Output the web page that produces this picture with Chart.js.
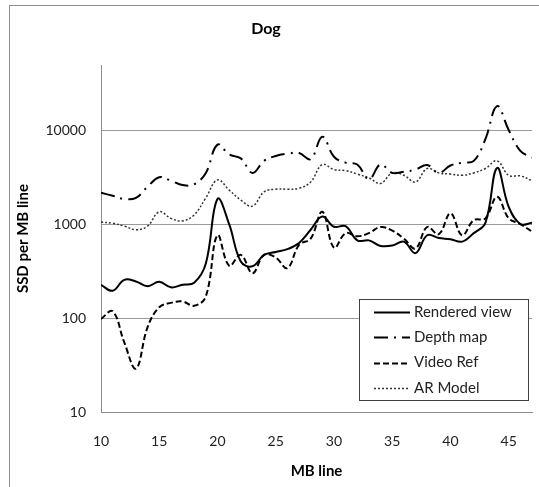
<!DOCTYPE html>
<html>
<head>
<meta charset="utf-8">
<script src="https://cdn.jsdelivr.net/npm/chart.js@4.4.1/dist/chart.umd.min.js"></script>
<style>
  html, body { margin: 0; padding: 0; background: #fff; }
  #wrap { width: 539px; height: 487px; }
</style>
</head>
<body>
<div id="wrap"><canvas id="graficoDog" width="539" height="487"></canvas></div>
<script>
const mbLinhas = [10, 11, 12, 13, 14, 15, 16, 17, 18, 19, 20, 21, 22, 23, 24, 25, 26, 27, 28,
  29, 30, 31, 32, 33, 34, 35, 36, 37, 38, 39, 40, 41, 42, 43, 44, 45, 46, 47];

const renderedView = [225, 195, 255, 245, 218, 243, 212, 226, 237, 380, 1850, 1000, 400, 355,
  470, 505, 540, 630, 870, 1200, 935, 950, 670, 670, 585, 590, 650, 490, 760, 710, 690, 650,
  800, 1030, 3950, 1520, 1000, 1030];

const depthMap = [2150, 2000, 1850, 1900, 2500, 3150, 2900, 2600, 2650, 3500, 7000, 5500, 5000,
  3500, 4700, 5300, 5600, 5700, 4900, 8500, 5200, 4500, 4300, 3000, 4300, 3500, 3600, 3800,
  4250, 3500, 4200, 4500, 4700, 8000, 18000, 10000, 6000, 5100];

const videoRef = [98, 118, 55, 29, 80, 130, 145, 150, 135, 170, 760, 360, 470, 300, 470, 440,
  340, 600, 700, 1350, 560, 800, 740, 800, 930, 850, 700, 550, 930, 780, 1300, 760, 1100, 1150,
  1950, 1150, 1000, 830];

const arModel = [1050, 1020, 950, 870, 950, 1350, 1150, 1080, 1250, 1900, 2950, 2300, 1800, 1550,
  2200, 2350, 2350, 2400, 2800, 4300, 3800, 3700, 3400, 3100, 2700, 3500, 3300, 2800, 3900,
  3500, 3400, 3300, 3500, 3900, 4700, 3300, 3250, 2900];

const ticksY = [10, 100, 1000, 10000];

function serie(valores) {
  return valores.map((v, i) => ({ x: mbLinhas[i], y: v }));
}

// moldura externa do grafico
const moldura = {
  id: "moldura",
  beforeDraw(chart) {
    const ctx = chart.ctx;
    ctx.save();
    ctx.strokeStyle = "#8c8c8c";
    ctx.lineWidth = 1;
    ctx.strokeRect(9.5, 5.5, 545, 500);
    ctx.restore();
  },
};

// legenda em caixa, no canto de baixo
const legendaCaixa = {
  id: "legendaCaixa",
  afterDraw(chart) {
    const ctx = chart.ctx;
    ctx.save();
    ctx.fillStyle = "#fff";
    ctx.fillRect(359.5, 299.5, 169, 101);
    ctx.strokeStyle = "#404040";
    ctx.lineWidth = 1;
    ctx.strokeRect(359.5, 299.5, 169, 101);
    ctx.font = "15px Lato";
    ctx.textBaseline = "middle";
    chart.data.datasets.forEach((ds, i) => {
      const y = 312 + i * 25.3;
      ctx.strokeStyle = ds.borderColor;
      ctx.lineWidth = ds.borderWidth;
      ctx.setLineDash(ds.borderDash || []);
      ctx.beginPath();
      ctx.moveTo(374, Math.round(y) + 0.5);
      ctx.lineTo(410, Math.round(y) + 0.5);
      ctx.stroke();
      ctx.setLineDash([]);
      ctx.fillStyle = "#222";
      ctx.fillText(ds.label, 414, y);
    });
    ctx.restore();
  },
};

const graficoDog = new Chart(document.getElementById("graficoDog"), {
  type: "line",
  data: {
    datasets: [
      {
        label: "Rendered view",
        data: serie(renderedView),
        borderColor: "#000",
        borderWidth: 2,
      },
      {
        label: "Depth map",
        data: serie(depthMap),
        borderColor: "#000",
        borderWidth: 2,
        borderDash: [14, 6, 2, 6],
      },
      {
        label: "Video Ref",
        data: serie(videoRef),
        borderColor: "#000",
        borderWidth: 2,
        borderDash: [6, 3],
      },
      {
        label: "AR Model",
        data: serie(arModel),
        borderColor: "#333",
        borderWidth: 1.5,
        borderDash: [2, 2],
      },
    ],
  },
  options: {
    responsive: false,
    animation: false,
    devicePixelRatio: 1,
    layout: { padding: { left: 0, right: 7, top: 0, bottom: 0 } },
    elements: {
      point: { radius: 0 },
      line: { tension: 0.4, fill: false },
    },
    plugins: {
      legend: { display: false },
      tooltip: { enabled: false },
      title: {
        display: true,
        text: "Dog",
        color: "#000",
        font: { family: "Lato", size: 16, weight: "bold" },
        padding: { top: 19, bottom: 27 },
      },
    },
    scales: {
      x: {
        type: "linear",
        min: 10,
        max: 47,
        afterFit: (scale) => { scale.height = 75; },
        grid: { display: false, drawTicks: false },
        border: { color: "#8c8c8c" },
        ticks: {
          stepSize: 5,
          includeBounds: false,
          padding: 21,
          maxRotation: 0,
          color: "#222",
          font: { family: "Lato", size: 14 },
        },
        title: {
          display: true,
          text: "MB line",
          color: "#000",
          font: { family: "Lato", size: 15, weight: "bold" },
          padding: { top: 7, bottom: 7 },
        },
      },
      y: {
        type: "logarithmic",
        min: 10,
        max: 49000,
        afterFit: (scale) => { scale.width = 101; },
        afterBuildTicks: (scale) => {
          scale.ticks = ticksY.map((v) => ({ value: v }));
        },
        grid: { color: "#9a9a9a", drawTicks: false },
        border: { color: "#8c8c8c" },
        ticks: {
          padding: 15,
          color: "#222",
          font: { family: "Lato", size: 14 },
          callback: (v) => String(v),
        },
        title: {
          display: true,
          text: "SSD per MB line",
          color: "#000",
          font: { family: "Lato", size: 15, weight: "bold" },
          padding: { top: 14, bottom: 14 },
        },
      },
    },
  },
  plugins: [moldura, legendaCaixa],
});
</script>
</body>
</html>
